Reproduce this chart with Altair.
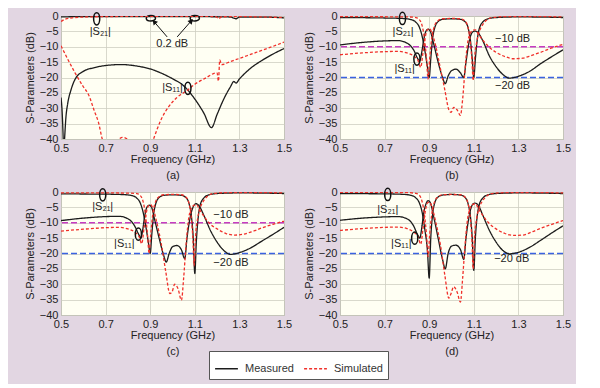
import altair as alt
import pandas as pd

FONT = "Liberation Sans"
BG = "#e2d6e2"

x_ticks = [0.5, 0.7, 0.9, 1.1, 1.3, 1.5]
y_ticks = [-40, -35, -30, -25, -20, -15, -10, -5, 0]

# ---------------- Panel (a) ----------------
a_m21_f = [0.5, 0.6, 0.8, 1.0, 1.2, 1.26, 1.275, 1.285, 1.3, 1.4, 1.5]
a_m21_v = [-0.3, -0.2, -0.2, -0.2, -0.25, -0.35, -0.7, -0.9, -0.35, -0.35, -0.6]
a_s21_f = [0.5, 0.52, 0.55, 0.6, 0.7, 0.9, 1.1, 1.195, 1.207, 1.22, 1.3, 1.4, 1.5]
a_s21_v = [-1.8, -1.0, -0.6, -0.35, -0.2, -0.1, -0.1, -0.2, -0.9, -0.25, -0.2, -0.3, -0.5]
a_m11_f = [0.5, 0.505, 0.509, 0.512, 0.516, 0.522, 0.53, 0.545, 0.563, 0.6, 0.65, 0.7, 0.77,
           0.85, 0.9, 0.95, 1.0, 1.05, 1.1, 1.14, 1.175, 1.2, 1.23, 1.26, 1.275, 1.285, 1.3,
           1.35, 1.4, 1.45, 1.5]
a_m11_v = [-26.5, -31, -38, -45, -40, -33, -28.5, -24, -20.6, -18, -16.8, -16.1, -15.8,
           -16.4, -17.2, -18.6, -20.4, -22.7, -27, -31.5, -36.3, -32, -27, -23, -21.3, -21.8, -20.5,
           -17, -14.5, -12.4, -10.6]
a_s11_f = [0.5, 0.53, 0.563, 0.6, 0.623, 0.65, 0.668, 0.685, 0.7, 0.73, 0.76, 0.775, 0.79,
           0.81, 0.86, 0.9, 0.915, 0.95, 0.983, 1.02, 1.066, 1.1, 1.148, 1.19, 1.2, 1.206,
           1.212, 1.22, 1.26, 1.3, 1.35, 1.4, 1.45, 1.5]
a_s11_v = [-9.7, -14, -18.5, -23, -25.5, -31, -34.6, -40, -43, -42, -40, -39.5, -39.7,
           -41, -46, -43, -40, -33.5, -29.5, -26.5, -24.2, -22.2, -20.2, -18.6, -18.5, -21.2,
           -14.3, -15.8, -14.8, -13.8, -12.5, -11.2, -9.9, -8.5]

# ---------------- Panels (b), (c), (d) ----------------
m21_f = [0.5, 0.6, 0.7, 0.78, 0.82, 0.84, 0.855, 0.868, 0.88, 0.892, 0.9, 0.907, 0.915, 0.925,
         0.94, 0.96, 1.0, 1.04, 1.06, 1.075, 1.085, 1.093, 1.1, 1.107, 1.115, 1.125, 1.14,
         1.16, 1.2, 1.3, 1.4, 1.5]
b_m21_v = [-0.5, -0.55, -0.65, -0.8, -1.2, -2.0, -3.5, -6.5, -11, -16.5, -20, -14, -7.5, -3.8,
           -1.8, -1.1, -0.9, -1.1, -1.8, -4, -8, -14, -20, -14, -8, -4, -2,
           -1, -0.5, -0.3, -0.35, -0.5]
c_m21_v = [-0.6, -0.65, -0.7, -0.85, -1.2, -2.0, -3.5, -6.5, -11, -16.5, -20, -14, -7.5, -3.8,
           -1.8, -1.1, -0.9, -1.1, -1.8, -4, -8, -15, -26.5, -16, -8.5, -4, -2,
           -1, -0.5, -0.3, -0.35, -0.5]
d_m21_v = [-0.5, -0.55, -0.6, -0.75, -1.1, -1.9, -3.4, -6.5, -12, -19, -28, -15, -7.5, -3.5,
           -1.6, -1.0, -0.8, -1.0, -1.7, -4, -8, -15, -25.5, -15, -8, -4, -2,
           -1, -0.5, -0.3, -0.35, -0.5]

s21_f = [0.5, 0.7, 0.8, 0.84, 0.855, 0.867, 0.878, 0.888, 0.895, 0.902, 0.912, 0.925, 0.94,
         0.96, 1.0, 1.04, 1.06, 1.075, 1.085, 1.092, 1.097, 1.103, 1.113, 1.125, 1.14, 1.16,
         1.18, 1.25, 1.4, 1.5]
b_s21_v = [-0.2, -0.25, -0.3, -0.5, -1.1, -2.8, -7, -14, -20.5, -14, -7, -3, -1.5,
           -0.9, -0.8, -0.9, -1.6, -4, -9, -15, -21, -14, -8.5, -5, -2.8, -1.2,
           -0.5, -0.2, -0.2, -0.3]
c_s21_v = [-0.3, -0.3, -0.35, -0.5, -1.1, -2.8, -7, -14, -20, -14, -7, -3, -1.5,
           -0.9, -0.8, -0.9, -1.6, -4, -9, -16, -24, -15, -8.5, -5, -2.8, -1.2,
           -0.5, -0.2, -0.2, -0.3]
d_s21_v = [-0.1, -0.15, -0.2, -0.45, -1.0, -2.8, -7, -14, -21, -14, -7, -3, -1.5,
           -0.9, -0.8, -0.9, -1.6, -4, -9, -16, -25, -15, -8.5, -5, -2.8, -1.2,
           -0.5, -0.2, -0.2, -0.3]

m11_f = [0.5, 0.6, 0.7, 0.76, 0.8, 0.83, 0.85, 0.858, 0.866, 0.875, 0.885, 0.895, 0.905, 0.92,
         0.94, 0.96, 0.972, 0.985, 1.0, 1.02, 1.04, 1.055, 1.065, 1.08, 1.095, 1.105, 1.12,
         1.14, 1.17, 1.2, 1.23, 1.26, 1.3, 1.35, 1.4, 1.45, 1.5]
b_m11_v = [-9.4, -8.6, -8.1, -8.0, -8.8, -11, -14, -14.5, -12, -8, -5, -4.3, -5, -9,
           -15, -20, -22, -19.5, -17.8, -17.3, -18.5, -20, -15, -8, -5.2, -4.9, -5.5,
           -8, -13, -16.5, -19, -20.2, -19.6, -18, -15.5, -13.2, -11]
c_m11_v = [-9.3, -8.5, -8.0, -7.9, -8.7, -11, -14, -15, -12.5, -8, -5, -4.3, -4.8, -9,
           -15, -20.5, -22.8, -20, -17.8, -17.4, -18.8, -21.7, -15, -8, -4.5, -3.8, -4.6,
           -7.5, -12.5, -16.3, -19, -20.3, -19.7, -18.2, -16, -13.8, -11.5]
d_m11_v = [-9.2, -8.5, -8.1, -8.0, -8.7, -11, -14.2, -15, -12, -7, -4, -2.8, -3.5, -8,
           -15, -22, -25, -20, -17.6, -17.3, -18.7, -21.9, -15, -7.5, -4, -3.6, -4.3,
           -7.5, -12.5, -16.3, -19, -20.1, -19.6, -18, -15.7, -13.3, -11]

s11_f = [0.5, 0.6, 0.7, 0.76, 0.8, 0.83, 0.85, 0.862, 0.872, 0.882, 0.892, 0.902, 0.912, 0.93,
         0.95, 0.97, 0.988, 0.998, 1.01, 1.025, 1.04, 1.05, 1.06, 1.07, 1.085, 1.097, 1.108,
         1.12, 1.14, 1.17, 1.2, 1.24, 1.28, 1.32, 1.36, 1.4, 1.45, 1.5]
b_s11_v = [-12.6, -12.0, -11.6, -11.5, -12.0, -13.0, -14.5, -16.7, -12, -7, -4.5, -4.1, -5.5, -10,
           -17, -24, -30.5, -31.3, -29.7, -30.5, -32.3, -27, -18, -10, -5.5, -4.6, -4.5,
           -5.8, -7.8, -10.2, -11.8, -13.2, -13.9, -13.7, -12.8, -11.8, -10.4, -9.2]
c_s11_v = [-12.7, -12.1, -11.6, -11.5, -12.0, -13.0, -14.5, -16.8, -12, -7, -4.5, -4.1, -5.3, -10,
           -17, -26, -33, -32.5, -30, -31.5, -35.2, -28, -18, -10, -5.2, -4.3, -4.1,
           -5.5, -7.8, -10.5, -12, -13.5, -14, -13.7, -12.8, -11.7, -10.5, -9.5]
d_s11_v = [-12.5, -11.9, -11.5, -11.4, -11.9, -13.0, -14.6, -17.0, -12, -6.5, -3.6, -3.3, -4.8, -10,
           -17, -27, -34.5, -33, -30.8, -32.5, -35.8, -28, -18, -10, -5, -4, -3.8,
           -5.3, -7.6, -10.3, -12, -13.5, -14.1, -14, -13, -11.8, -10.5, -9.3]

# ---------------- annotations ----------------
a_labels = {"f": [0.676, 0.999, 1.0], "v": [-5.1, -9.1, -23.3], "t": ["|S₂₁|", "0.2 dB", "|S₁₁|"]}
b_labels = {"f": [0.783, 0.79, 1.274, 1.274], "v": [-5.3, -17.2, -7.5, -22.7],
            "t": ["|S₂₁|", "|S₁₁|", "−10 dB", "−20 dB"]}
c_labels = {"f": [0.687, 0.784, 1.262, 1.262], "v": [-4.9, -16.8, -7.6, -23.1],
            "t": ["|S₂₁|", "|S₁₁|", "−10 dB", "−20 dB"]}
d_labels = {"f": [0.714, 0.775, 1.27], "v": [-6.0, -16.8, -21.7],
            "t": ["|S₂₁|", "|S₁₁|", "−20 dB"]}

a_ell_v = {"f": [0.66, 1.069], "v": [-0.9, -23.5]}
a_ell_h = {"f": [0.903, 1.1], "v": [-0.7, -0.7]}
b_ell_v = {"f": [0.78, 0.845], "v": [-0.8, -14.0]}
c_ell_v = {"f": [0.687, 0.847], "v": [-0.9, -13.7]}
d_ell_v = {"f": [0.714, 0.835], "v": [-0.8, -15.0]}

# arrows: each arrow is a two-point segment (tail, head)
a_arrow_id = ["L", "L", "R", "R"]
a_arrow_f = [0.976, 0.918, 1.021, 1.084]
a_arrow_v = [-6.8, -1.9, -6.8, -1.6]
a_head_l = {"f": [0.918], "v": [-1.9]}
a_head_r = {"f": [1.084], "v": [-1.6]}

REF10 = "#c63cc0"
REF20 = "#3a62e0"

ELL_V = "M0,-1 A0.5,1 0 1,1 0,1 A0.5,1 0 1,1 0,-1 Z"
ELL_H = "M-1,0 A1,0.6 0 1,1 1,0 A1,0.6 0 1,1 -1,0 Z"

W, H = 223, 123

LEGEND = alt.Legend(orient="none", legendX=148, legendY=335, direction="horizontal", title=None,
                    symbolType="stroke", symbolSize=520, symbolStrokeWidth=1.5,
                    labelFont=FONT, labelFontSize=11, labelColor="#333", labelOffset=6,
                    columnPadding=7, padding=5, fillColor="white", strokeColor="#555")
COLOR = alt.Color("type:N", scale=alt.Scale(domain=["Measured", "Simulated"],
                                            range=["#1c1c1c", "#f0302a"]), legend=LEGEND)
DASH = alt.StrokeDash("type:N", scale=alt.Scale(domain=["Measured", "Simulated"],
                                                range=[[1, 0], [3, 2]]), legend=LEGEND)


def curves(m21, s21, m11, s11):
    rows = []
    for typ, par, (f, v) in [("Measured", "S21", m21), ("Simulated", "S21", s21),
                             ("Measured", "S11", m11), ("Simulated", "S11", s11)]:
        rows += [{"type": typ, "param": par, "f": a, "v": b} for a, b in zip(f, v)]
    return pd.DataFrame(rows)


def panel(df, cap, refs, labels, ell_v, ell_h=None, arrows=None):
    X = alt.X("f:Q", scale=alt.Scale(domain=[0.5, 1.5], nice=False, zero=False),
              axis=alt.Axis(values=x_ticks, format=".1f", labelOverlap=False, labelFlush=False,
                            title=["Frequency (GHz)", cap]))
    Y = alt.Y("v:Q", scale=alt.Scale(domain=[-40, 0], nice=False, zero=False),
              axis=alt.Axis(values=y_ticks, labelOverlap=False, title="S-Parameters (dB)"))
    layers = []
    for val, col in refs:
        layers.append(alt.Chart(pd.DataFrame({"v": [val]})).mark_rule(
            color=col, strokeDash=[6, 3], strokeWidth=1.5).encode(y=Y))
    if ell_h is not None:
        layers.append(alt.Chart(pd.DataFrame(ell_h)).mark_point(
            shape=ELL_H, size=85, color="#111", strokeWidth=1.5, filled=False, opacity=1).encode(x=X, y=Y))
    if arrows is not None:
        layers.append(alt.Chart(pd.DataFrame(arrows)).mark_line(color="#111", strokeWidth=1).encode(
            x=X, y=Y, detail="id:N", order="k:Q"))
        layers.append(alt.Chart(pd.DataFrame(a_head_l)).mark_point(
            shape="triangle-up", filled=True, size=32, color="#111", opacity=1, angle=319.5).encode(x=X, y=Y))
        layers.append(alt.Chart(pd.DataFrame(a_head_r)).mark_point(
            shape="triangle-up", filled=True, size=32, color="#111", opacity=1, angle=41.2).encode(x=X, y=Y))
    for typ in ["Measured", "Simulated"]:
        layers.append(alt.Chart(df[df["type"] == typ]).mark_line(
            clip=True, interpolate="monotone", strokeWidth=1.3).encode(
            x=X, y=Y, color=COLOR, strokeDash=DASH, detail="param:N"))
    layers.append(alt.Chart(pd.DataFrame(labels)).mark_text(
        font=FONT, fontSize=11, color="#222").encode(x=X, y=Y, text="t:N"))
    layers.append(alt.Chart(pd.DataFrame(ell_v)).mark_point(
        shape=ELL_V, size=150, color="#111", strokeWidth=1.5, filled=False, opacity=1).encode(x=X, y=Y))
    return alt.layer(*layers).properties(width=W, height=H)


a_arrows = {"id": a_arrow_id, "f": a_arrow_f, "v": a_arrow_v, "k": [0, 1, 0, 1]}

pa = panel(curves((a_m21_f, a_m21_v), (a_s21_f, a_s21_v), (a_m11_f, a_m11_v), (a_s11_f, a_s11_v)),
           "(a)", [], a_labels, a_ell_v, a_ell_h, a_arrows)
pb = panel(curves((m21_f, b_m21_v), (s21_f, b_s21_v), (m11_f, b_m11_v), (s11_f, b_s11_v)),
           "(b)", [(-10, REF10), (-20, REF20)], b_labels, b_ell_v)
pc = panel(curves((m21_f, c_m21_v), (s21_f, c_s21_v), (m11_f, c_m11_v), (s11_f, c_s11_v)),
           "(c)", [(-10, REF10), (-20, REF20)], c_labels, c_ell_v)
pd_ = panel(curves((m21_f, d_m21_v), (s21_f, d_s21_v), (m11_f, d_m11_v), (s11_f, d_s11_v)),
            "(d)", [(-20, REF20)], d_labels, d_ell_v)

chart = alt.concat(pa, pb, pc, pd_, columns=2, spacing=alt.RowColnumber(row=53, column=56),
                   bounds="flush").resolve_scale(
    x="independent", y="independent", color="shared", strokeDash="shared"
).properties(
    background=BG, padding={"left": 15, "top": 0, "right": 4, "bottom": 4}
).configure_axis(
    labelFont=FONT, labelFontSize=11, labelColor="#222", labelPadding=3,
    titleFont=FONT, titleFontSize=11, titleFontWeight="normal", titleColor="#222",
    ticks=False, domain=False, gridColor="#cfcfc2", gridWidth=0.8, titleLineHeight=16
).configure_axisX(titlePadding=0).configure_axisY(titlePadding=4).configure_view(
    fill="#fffff3", stroke="#9a9a9a", strokeWidth=1
)

chart.save("out.html", embed_options={"renderer": "svg", "actions": False})
